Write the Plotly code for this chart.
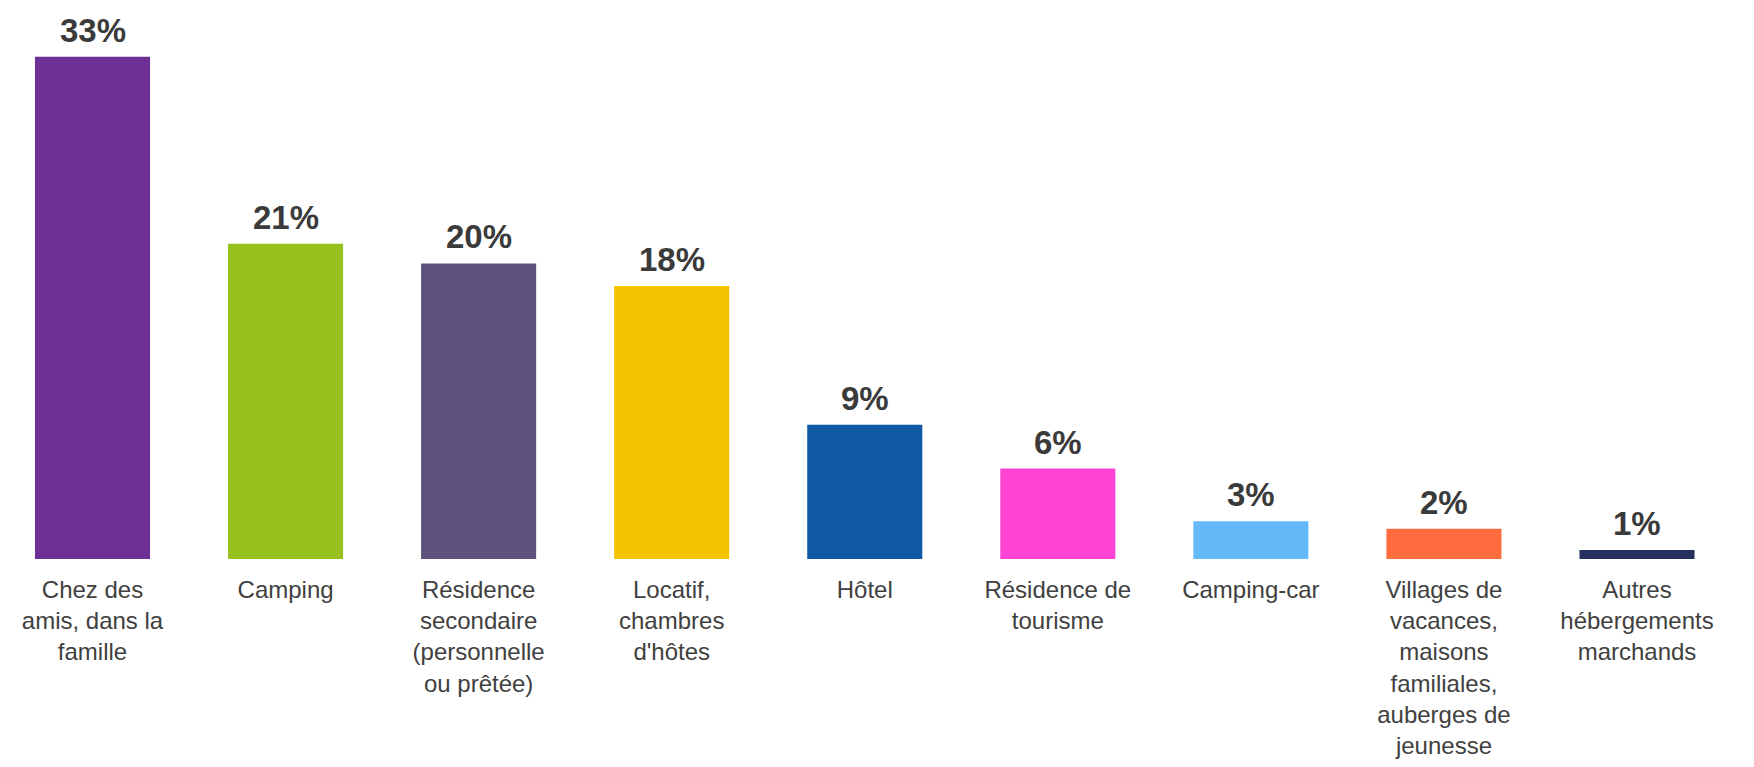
import plotly.graph_objects as go

categories = [
    "Chez des<br>amis, dans la<br>famille",
    "Camping",
    "Résidence<br>secondaire<br>(personnelle<br>ou prêtée)",
    "Locatif,<br>chambres<br>d'hôtes",
    "Hôtel",
    "Résidence de<br>tourisme",
    "Camping-car",
    "Villages de<br>vacances,<br>maisons<br>familiales,<br>auberges de<br>jeunesse",
    "Autres<br>hébergements<br>marchands",
]
values = [33.3, 20.9, 19.6, 18.1, 8.9, 6.0, 2.5, 2.0, 0.6]
value_labels = ["33%", "21%", "20%", "18%", "9%", "6%", "3%", "2%", "1%"]
colors = ["#6E2F96", "#97C11F", "#5D527C", "#F5C300", "#0F59A4",
          "#FF44D4", "#64B9F8", "#FF6D3F", "#263060"]

FONT = "Liberation Sans, Arial, sans-serif"

fig = go.Figure(go.Bar(
    x=categories,
    y=values,
    cliponaxis=False,
    marker=dict(color=colors, line=dict(width=0)),
    width=0.596,
    hoverinfo="skip",
))

for cat, val, lab in zip(categories, values, value_labels):
    fig.add_annotation(
        x=cat, y=val, text=lab, showarrow=False,
        xanchor="center", yanchor="bottom", yshift=6,
        font=dict(family=FONT, size=33, color="#3A3A3A", weight="bold"),
    )

fig.update_layout(
    width=1738, height=751,
    margin=dict(l=0, r=20, t=0, b=200),
    plot_bgcolor="white", paper_bgcolor="white",
    showlegend=False,
    font=dict(family=FONT, color="#404040"),
)
fig.update_xaxes(
    range=[-0.4377, 8.461],
    automargin=False,
    showline=False, showgrid=False, zeroline=False, ticks="",
    tickfont=dict(size=24, color="#404040"),
    ticklabelstandoff=14,
)
fig.update_yaxes(
    range=[0, 36.54],
    automargin=False,
    visible=False, showgrid=False, zeroline=False,
)

fig.write_html("out.html")
